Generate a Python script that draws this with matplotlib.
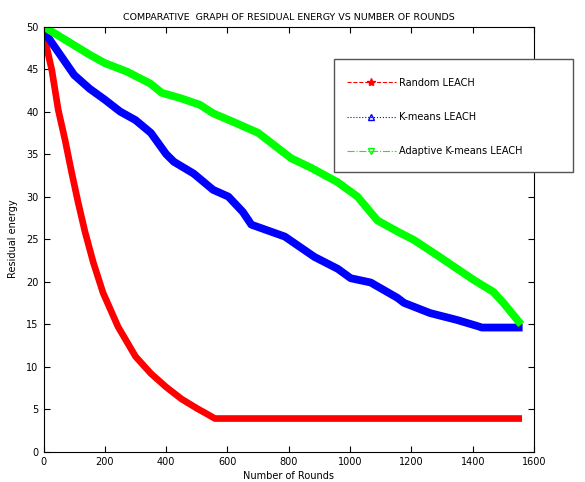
import matplotlib
matplotlib.use("Agg")
import matplotlib.pyplot as plt
from matplotlib.lines import Line2D
from matplotlib.patches import Rectangle

# values
red_rounds = [0, 5, 27, 48, 70, 92, 113, 135, 162, 194, 243, 300, 350, 400, 450, 500, 530, 559, 1550]
red_energy = [50, 48.4, 44.9, 40.2, 36.7, 32.8, 29.3, 25.9, 22.3, 18.7, 14.7, 11.2, 9.2, 7.6,
              6.2, 5.1, 4.5, 3.9, 3.9]

blue_rounds = [0, 50, 100, 150, 200, 250, 300, 350, 400, 425, 490, 553, 603, 650, 678, 787,
               884, 960, 1002, 1067, 1154, 1176, 1261, 1348, 1413, 1430, 1550]
blue_energy = [49.5, 46.9, 44.3, 42.7, 41.4, 40, 39, 37.5, 35, 34.1, 32.7, 30.8, 30.0, 28.2,
               26.7, 25.3, 22.9, 21.5, 20.4, 19.9, 18.1, 17.5, 16.3, 15.5, 14.8, 14.6, 14.6]

green_rounds = [0, 50, 100, 150, 200, 272, 348, 386, 445, 510, 553, 618, 700, 808, 872, 959,
                1024, 1089, 1154, 1208, 1284, 1403, 1467, 1500, 1550]
green_energy = [50, 48.9, 47.8, 46.7, 45.7, 44.7, 43.3, 42.2, 41.6, 40.8, 39.8, 38.8, 37.5,
                34.5, 33.4, 31.7, 30.0, 27.2, 25.9, 24.9, 23.1, 20.2, 18.8, 17.5, 15.3]

labels = ["Random LEACH", "K-means LEACH", "Adaptive K-means LEACH"]

plt.rcParams['font.family'] = ['DejaVu Sans']

fig = plt.figure(figsize=(5.85, 4.82), dpi=100)
ax = fig.add_axes([0.0744, 0.0629, 0.8385, 0.882])

ax.plot(red_rounds, red_energy, color="#ff0000", lw=4.8, solid_joinstyle="round")
ax.plot(blue_rounds, blue_energy, color="#0000ff", lw=5.6, solid_joinstyle="round")
ax.plot(green_rounds, green_energy, color="#00ff00", lw=5.6, solid_joinstyle="round")

ax.set_xlim(0, 1600)
ax.set_ylim(0, 50)
ax.set_xticks(range(0, 1601, 200))
ax.set_yticks(range(0, 51, 5))
ax.tick_params(direction="in", top=True, right=True, labelsize=7, length=4)
ax.set_title("COMPARATIVE  GRAPH OF RESIDUAL ENERGY VS NUMBER OF ROUNDS", fontsize=6.8, pad=5)
ax.set_xlabel("Number of Rounds", fontsize=7, labelpad=3)
ax.set_ylabel("Residual energy", fontsize=7, labelpad=6)

handles = [
    Line2D([0, 1, 2], [0, 0, 0], color="#ff0000", ls="--", lw=0.8, marker="*", ms=6,
           markevery=[1]),
    Line2D([0, 1, 2], [0, 0, 0], color="#0000ff", ls=":", lw=0.8, marker="^", ms=4.5,
           markevery=[1], markerfacecolor="none"),
    Line2D([0, 1, 2], [0, 0, 0], color="#00ff00", ls="-.", lw=0.8, marker="v", ms=4.5,
           markevery=[1], markerfacecolor="none"),
]

# legend frame sticks out past the right axis like in the original
fig.patches.append(Rectangle((0.571, 0.643), 0.4085, 0.2344, transform=fig.transFigure,
                             facecolor="white", edgecolor="#555555", lw=1.0, zorder=5))
leg = fig.legend(handles, labels, loc="upper left", bbox_to_anchor=(0.593, 0.839),
                 fontsize=7, handlelength=5, labelspacing=2.5, borderpad=0,
                 borderaxespad=0, handletextpad=0.35, frameon=False)
leg.set_zorder(6)

fig.savefig("out.png", dpi=100)
